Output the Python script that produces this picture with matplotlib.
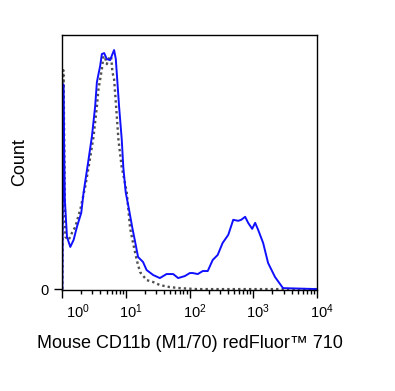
import numpy as np
import matplotlib.pyplot as plt
from matplotlib.transforms import ScaledTranslation

plt.rcParams['font.family'] = ['Liberation Sans', 'DejaVu Sans']
plt.rcParams['mathtext.fontset'] = 'custom'
plt.rcParams['mathtext.rm'] = 'Liberation Sans'
plt.rcParams['mathtext.it'] = 'Liberation Sans'
plt.rcParams['mathtext.bf'] = 'Liberation Sans:bold'

# fluorescence (log10) and count
blue_logx = [0.005, 0.013, 0.020, 0.028, 0.044, 0.078, 0.130, 0.182, 0.234, 0.302,
             0.338, 0.376, 0.416, 0.469, 0.520, 0.547, 0.572, 0.598, 0.625, 0.661,
             0.703, 0.755, 0.791, 0.817, 0.844, 0.869, 0.895, 0.937, 0.962, 1.000,
             1.052, 1.100, 1.141, 1.193, 1.271, 1.327, 1.431, 1.535, 1.640, 1.744,
             1.822, 1.927, 2.005, 2.052, 2.130, 2.208, 2.286, 2.364, 2.442, 2.520,
             2.608, 2.686, 2.764, 2.811, 2.873, 2.920, 2.983, 3.030, 3.077, 3.155,
             3.233, 3.342, 3.467, 4.0]
blue_count = [0, 89, 204, 169, 89, 52, 42, 49, 62, 76,
              96, 112, 129, 152, 182, 206, 214, 222, 234, 235,
              229, 228, 234, 238, 229, 206, 182, 149, 121, 96,
              79, 62, 49, 32, 27, 19, 14, 11, 15, 15,
              11, 13, 16, 16, 15, 18, 18, 29, 34, 46,
              54, 69, 68, 69, 72, 66, 60, 66, 59, 46,
              26, 12, 1, 0]

gray_logx = [0.005, 0.013, 0.020, 0.028, 0.044, 0.052, 0.104, 0.156, 0.208, 0.286,
             0.364, 0.416, 0.495, 0.547, 0.572, 0.625, 0.650, 0.677, 0.703, 0.728,
             0.770, 0.791, 0.817, 0.844, 0.885, 0.937, 0.962, 1.016, 1.068, 1.114,
             1.172, 1.224, 1.328, 1.432, 1.536, 1.692, 1.848, 2.114, 4.0]
gray_count = [0, 139, 218, 189, 89, 52, 49, 56, 62, 79,
              102, 121, 152, 182, 199, 219, 232, 230, 224, 229,
              232, 216, 209, 186, 149, 121, 114, 96, 61, 46,
              29, 17, 9, 7, 4, 2, 1, 0, 0]

blue_x = 10 ** np.array(blue_logx)
gray_x = 10 ** np.array(gray_logx)

fig = plt.figure(figsize=(3.95, 3.91), dpi=100)
ax = fig.add_axes([0.157, 0.258, 0.6455, 0.6525])

ax.plot(gray_x, gray_count, color='#505050', linestyle=(0, (1, 1.3)), linewidth=1.7)
ax.plot(blue_x, blue_count, color='#1010ff', linewidth=1.4)

ax.set_xscale('log')
ax.set_xlim(1, 1e4)
ax.set_ylim(-1, 253)
ax.set_xticks([1, 10, 100, 1000, 10000])
ax.set_xticklabels([r'$10^0$', r'$10^1$', r'$10^2$', r'$10^3$', r'$10^4$'])
ax.set_yticks([0])
ax.set_yticklabels(['0'])
ax.tick_params(axis='both', which='major', direction='out', length=6, width=1,
               labelsize=10.5, colors='black')
ax.tick_params(axis='x', which='major', pad=3)
ax.tick_params(axis='x', which='minor', direction='out', length=3, width=1)
for i, lab in enumerate(ax.get_xticklabels()):
    dx = 16 if i == 0 else 5
    lab.set_transform(lab.get_transform() + ScaledTranslation(dx / 100, 0, fig.dpi_scale_trans))
ax.set_xlabel('Mouse CD11b (M1/70) redFluor™ 710', fontsize=13, labelpad=10)
ax.set_ylabel('Count', fontsize=13, labelpad=9)
for s in ax.spines.values():
    s.set_linewidth(1)

fig.savefig('out.png', dpi=100)
